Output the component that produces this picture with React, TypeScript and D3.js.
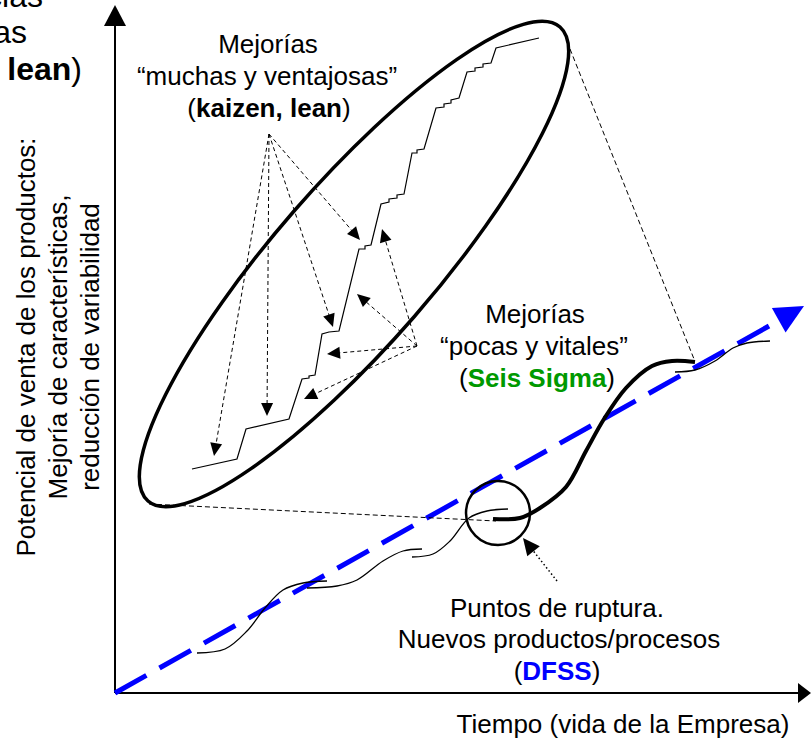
import React from "react";
import * as d3 from "d3";

type P = [number, number];

const W = 811;
const H = 740;

// time (x) and product potential (y), arbitrary units
const x = d3.scaleLinear().domain([0, 70]).range([115, 815]);
const y = d3.scaleLinear().domain([0, 69]).range([693, 3]);

const xAxisEnd: P = [69.6, 0];
const yAxisEnd: P = [0, 68.8];

// overall trend (dashed blue)
const trend: P[] = [[0, 0], [65.4, 36.7]];
const trendTip: P = [68.9, 38.7];

// many small improvements (kaizen staircase)
const stairs: P[] = [
  [7.7, 22.4], [12.2, 23.4], [13.1, 26.4], [17.4, 27.4], [18.7, 31.4], [19.4, 31.5],
  [19.4, 31.7], [20.0, 31.8], [20.7, 35.9], [21.4, 36.1], [22.4, 36.2], [24.4, 44.4],
  [25.0, 44.4], [25.0, 44.7], [25.6, 44.8], [26.6, 48.9], [27.4, 49.1], [27.4, 49.4],
  [28.2, 49.5], [28.2, 49.8], [28.9, 49.9], [29.7, 54.0], [30.2, 54.0], [30.2, 54.3],
  [30.9, 54.4], [32.1, 58.5], [32.9, 58.6], [32.9, 58.9], [33.6, 59.0], [33.6, 59.3],
  [34.4, 59.5], [35.2, 62.1], [36.0, 62.2], [36.0, 62.5], [36.8, 62.6], [36.8, 62.9],
  [37.6, 63.0], [38.1, 64.5], [42.4, 65.5],
];

const ellipseCenter: P = [23.9, 42.9];
const ellipseRadii: P = [31.4, 8.0];
const ellipseTilt = 49;

// annotation arrows
const kaizenFrom: P = [15.4, 55.9];
const kaizenTo: P[] = [[9.9, 23.7], [15.2, 27.7], [21.8, 36.6], [24.5, 45.3]];
const vitalFrom: P = [30.2, 34.7];
const vitalTo: P[] = [[26.7, 46.4], [24.2, 39.9], [21.2, 33.9], [18.9, 29.4]];

// product life curves
const wave1: P[] = [[8.2, 4.0], [11.0, 4.4], [13.2, 6.2], [15.0, 8.5], [16.8, 10.3], [18.8, 11.0], [21.2, 11.2]];
const wave2: P[] = [[19.2, 10.5], [22.2, 10.7], [24.2, 11.3], [26.8, 13.2], [28.8, 14.2], [30.7, 14.4]];
const wave3: P[] = [[29.7, 13.6], [31.8, 13.9], [33.5, 15.2], [35.4, 17.5], [37.2, 18.2], [39.3, 18.4]];
const sCurve: P[] = [[37.8, 17.4], [40.5, 17.5], [42.5, 18.5], [45.1, 20.6], [47.1, 24.2], [48.9, 27.4], [51.1, 30.5], [53.7, 32.7], [55.7, 33.2], [58.0, 33.1]];
const wave4: P[] = [[56.0, 32.1], [58.0, 32.3], [60.0, 33.2], [61.8, 34.5], [63.2, 35.0], [65.5, 35.2]];

// zoom guide lines
const guideLow: P[] = [[3.4, 18.9], [38.1, 17.2]];
const guideHigh: P[] = [[45.5, 64.4], [57.9, 33.4]];

const breakCenter: P = [38.3, 18.0];
const breakRadius = 3.2;
const breakArrowFrom: P = [44.2, 11.2];
const breakArrowTo: P = [40.8, 15.5];

const px = (p: P): P => [x(p[0]), y(p[1])];

const straight = d3.line<P>().x((d) => x(d[0])).y((d) => y(d[1]));
const smooth = d3.line<P>().x((d) => x(d[0])).y((d) => y(d[1])).curve(d3.curveCatmullRom.alpha(0.5));

function head(from: P, tip: P, len: number, half: number) {
  const [x0, y0] = px(from);
  const [x1, y1] = px(tip);
  const d = Math.hypot(x1 - x0, y1 - y0);
  const ux = (x1 - x0) / d;
  const uy = (y1 - y0) / d;
  const bx = x1 - ux * len;
  const by = y1 - uy * len;
  return `${x1},${y1} ${bx - uy * half},${by + ux * half} ${bx + uy * half},${by - ux * half}`;
}

function DashedArrow({ from, to }: { from: P; to: P }) {
  const [x0, y0] = px(from);
  const [x1, y1] = px(to);
  const d = Math.hypot(x1 - x0, y1 - y0);
  const k = (d - 10) / d;
  return (
    <g>
      <line x1={x0} y1={y0} x2={x0 + (x1 - x0) * k} y2={y0 + (y1 - y0) * k} stroke="#000" strokeWidth={1} strokeDasharray="4,3" />
      <polygon points={head(from, to, 13, 6)} fill="#000" />
    </g>
  );
}

const font = "'Liberation Sans', Arial, sans-serif";

export default function App() {
  const [ecx, ecy] = px(ellipseCenter);
  const erx = x(ellipseCenter[0] + ellipseRadii[0]) - ecx;
  const ery = x(ellipseCenter[0] + ellipseRadii[1]) - ecx;
  const [bcx, bcy] = px(breakCenter);
  const br = x(breakCenter[0] + breakRadius) - bcx;
  const [o0, o1] = px([0, 0]);

  return (
    <svg width={W} height={H} style={{ position: "absolute", left: 0, top: 0, background: "#fff" }} fontFamily={font}>
      {/* axes */}
      <line x1={o0} y1={o1} x2={x(xAxisEnd[0]) - 10} y2={o1} stroke="#000" strokeWidth={2} />
      <polygon points={head([0, 0], xAxisEnd, 13, 10)} fill="#000" />
      <line x1={o0} y1={o1} x2={o0} y2={y(yAxisEnd[1]) + 15} stroke="#000" strokeWidth={2} />
      <polygon points={head([0, 0], yAxisEnd, 21, 11)} fill="#000" />

      {/* trend */}
      <path d={straight(trend) ?? ""} fill="none" stroke="#0000ff" strokeWidth={5} strokeDasharray="36,15" />
      <polygon points={head([0, 0], trendTip, 29, 14)} fill="#0000ff" />

      {/* guides */}
      <path d={straight(guideLow) ?? ""} fill="none" stroke="#000" strokeWidth={1} strokeDasharray="5,3" />
      <path d={straight(guideHigh) ?? ""} fill="none" stroke="#000" strokeWidth={1} strokeDasharray="5,3" />

      {/* life curves */}
      {[wave1, wave2, wave3, wave4].map((w, i) => (
        <path key={i} d={smooth(w) ?? ""} fill="none" stroke="#000" strokeWidth={1.3} />
      ))}
      <path d={smooth(sCurve) ?? ""} fill="none" stroke="#000" strokeWidth={4} />

      {/* breakthrough circle */}
      <circle cx={bcx} cy={bcy} r={br} fill="none" stroke="#000" strokeWidth={2.5} />
      <line x1={px(breakArrowFrom)[0]} y1={px(breakArrowFrom)[1]} x2={px(breakArrowTo)[0] + 8} y2={px(breakArrowTo)[1] + 10} stroke="#000" strokeWidth={1.5} strokeDasharray="1.5,2.5" />
      <polygon points={head(breakArrowFrom, breakArrowTo, 17, 8)} fill="#000" />

      {/* kaizen zoom */}
      <ellipse cx={ecx} cy={ecy} rx={erx} ry={ery} fill="none" stroke="#000" strokeWidth={3.5} transform={`rotate(${-ellipseTilt} ${ecx} ${ecy})`} />
      <path d={straight(stairs) ?? ""} fill="none" stroke="#000" strokeWidth={1.2} />
      {kaizenTo.map((t, i) => <DashedArrow key={"k" + i} from={kaizenFrom} to={t} />)}
      {vitalTo.map((t, i) => <DashedArrow key={"v" + i} from={vitalFrom} to={t} />)}

      {/* labels */}
      <g fontSize={32} fill="#000">
        <text x={43} y={7} textAnchor="end">cias</text>
        <text x={27} y={43} textAnchor="end">as</text>
        <text x={82} y={80} textAnchor="end"><tspan fontWeight="bold">lean</tspan>)</text>
      </g>
      <g fontSize={26} fill="#000" textAnchor="middle">
        <text x={268} y={53}>Mejorías</text>
        <text x={267} y={85}>“muchas y ventajosas”</text>
        <text x={269} y={117}>(<tspan fontWeight="bold">kaizen, lean</tspan>)</text>

        <text x={535} y={323}>Mejorías</text>
        <text x={534} y={355}>“pocas y vitales”</text>
        <text x={537} y={387}>(<tspan fontWeight="bold" fill="#009900">Seis Sigma</tspan>)</text>

        <text x={557} y={617}>Puntos de ruptura.</text>
        <text x={559} y={648}>Nuevos productos/procesos</text>
        <text x={557} y={680}>(<tspan fontWeight="bold" fill="#0000ff">DFSS</tspan>)</text>

        <text x={623} y={733}>Tiempo (vida de la Empresa)</text>

        <g transform="translate(0,347)">
          <text transform="translate(35,0) rotate(-90)">Potencial de venta de los productos:</text>
          <text transform="translate(67,0) rotate(-90)">Mejoría de características,</text>
          <text transform="translate(99,0) rotate(-90)">reducción de variabilidad</text>
        </g>
      </g>
    </svg>
  );
}
